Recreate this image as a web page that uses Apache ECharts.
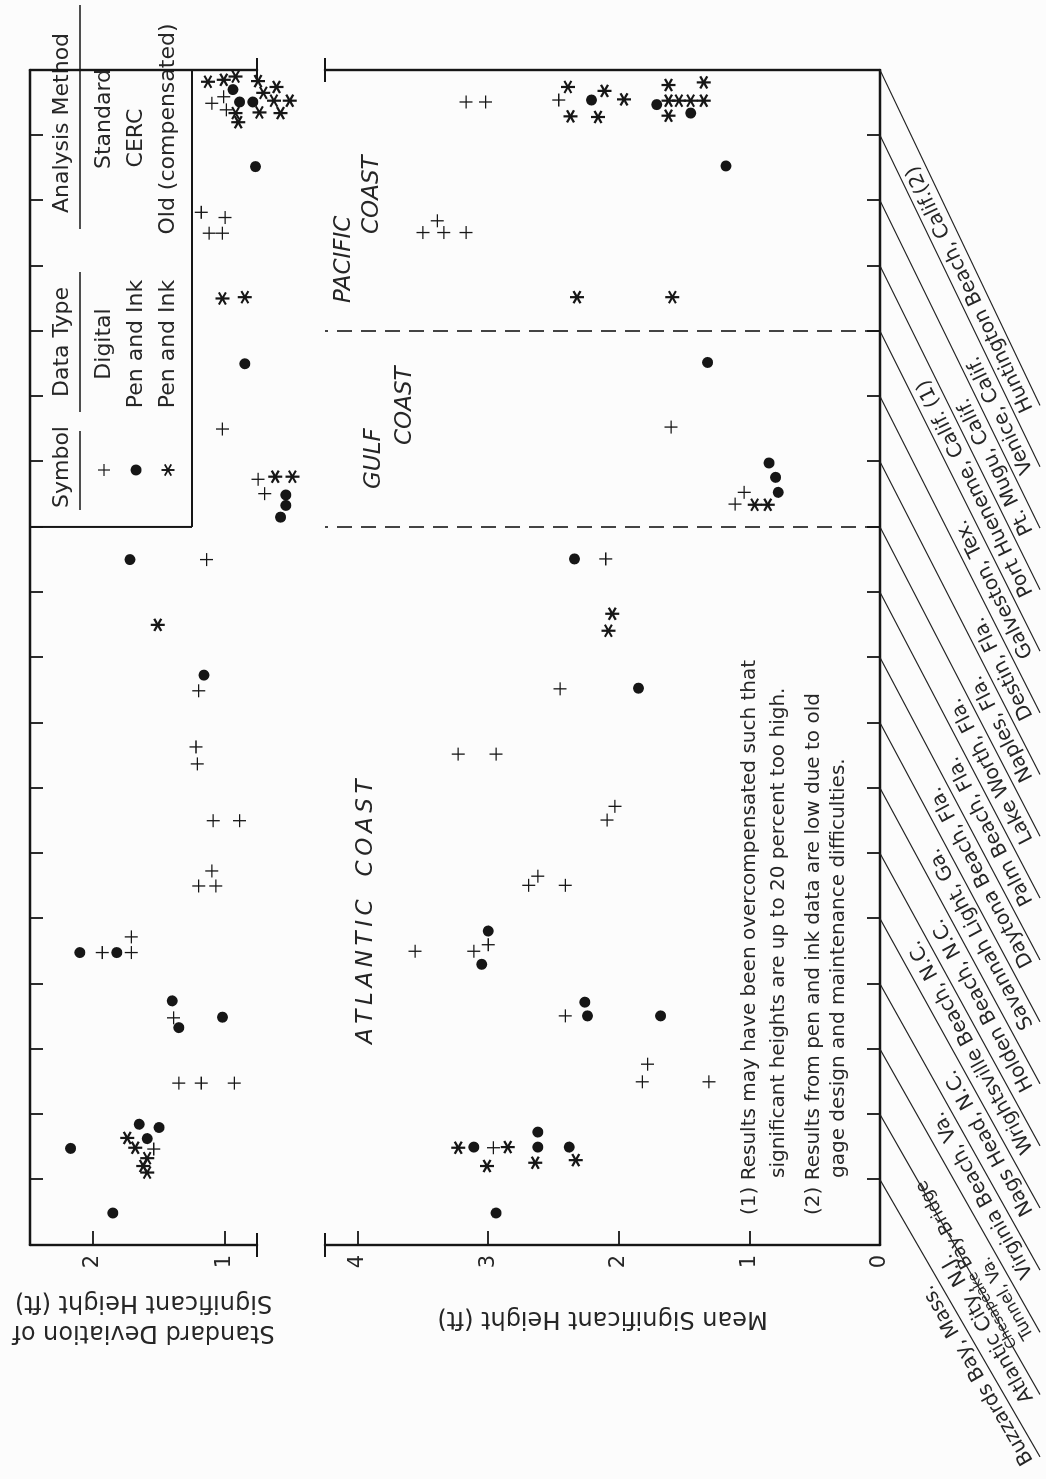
<!DOCTYPE html>
<html><head><meta charset="utf-8">
<script src="https://cdn.jsdelivr.net/npm/echarts@6.0.0/dist/echarts.min.js"></script>
<style>
html,body{margin:0;padding:0;background:#fcfcfc;width:1046px;height:1479px;overflow:hidden;}
#chart{position:absolute;left:0;top:0;width:1479px;height:1046px;transform-origin:0 0;transform:translate(0,1479px) rotate(-90deg);}
</style></head><body><div id="chart"></div>
<script>
// ---------------- data ----------------
const stations = [
  'Buzzards Bay, Mass.', 'Atlantic City, N.J.', '{s|Chesapeake} {b|Bay-Bridge}\n{t|Tunnel, Va.}', 'Virginia Beach, Va.',
  'Nags Head, N.C.', 'Wrightsville Beach, N.C.', 'Holden Beach, N.C.', 'Savannah Light, Ga.',
  'Daytona Beach, Fla.', 'Palm Beach, Fla.', 'Lake Worth, Fla.', 'Naples, Fla.', 'Destin, Fla.',
  'Galveston, Tex.', 'Port Hueneme, Calif. (1)', 'Pt. Mugu, Calif.', 'Venice, Calif.', 'Huntington Beach, Calif.(2)'
];
const coastBoundaries = [11, 14];
const meanTickValues = [0, 1, 2, 3, 4];
const stdTickValues = [1, 2];

// [station position, value]
const stdDigital = [[10.50,1.14],[8.49,1.20],[7.63,1.22],[7.37,1.21],[6.50,1.09],[6.50,0.89],[5.73,1.10],[5.50,1.20],[5.50,1.07],
  [4.72,1.71],[4.48,1.93],[4.48,1.71],[3.48,1.39],[2.48,1.35],[2.48,1.18],[2.48,0.93],[1.47,1.54],
  [17.59,1.01],[17.49,1.10],[17.39,0.99],[15.82,1.18],[15.74,1.00],[15.50,1.12],[15.50,1.02],[12.50,1.02],[11.73,0.75],[11.51,0.70]];
const stdStandard = [[10.50,1.72],[8.73,1.16],[4.48,2.10],[4.48,1.82],[3.74,1.40],[3.33,1.35],[3.49,1.02],[1.85,1.65],[1.80,1.50],
  [1.63,1.59],[1.48,2.17],[0.49,1.85],[17.70,0.94],[17.51,0.89],[17.51,0.79],[16.52,0.77],[13.50,0.85],[11.49,0.54],[11.33,0.54],[11.15,0.58]];
const stdOld = [[9.50,1.51],[1.64,1.74],[1.49,1.68],[1.33,1.59],[1.21,1.62],[1.11,1.59],
  [17.82,1.13],[17.85,1.01],[17.90,0.92],[17.83,0.75],[17.74,0.61],[17.65,0.71],[17.53,0.63],[17.53,0.51],[17.34,0.92],
  [17.35,0.74],[17.34,0.58],[17.20,0.90],[14.50,1.02],[14.52,0.85],[11.77,0.62],[11.77,0.49]];

const meanDigital = [[10.51,2.10],[8.52,2.45],[7.52,3.23],[7.52,2.94],[6.72,2.03],[6.51,2.09],[5.65,2.62],[5.51,2.69],[5.51,2.41],
  [4.50,3.56],[4.50,3.11],[4.60,3.00],[3.51,2.41],[2.77,1.78],[2.50,1.82],[2.50,1.31],[1.49,2.96],
  [17.51,3.17],[17.51,3.02],[17.54,2.46],[15.69,3.39],[15.51,3.50],[15.51,3.34],[15.51,3.17],[12.53,1.60],[11.53,1.04],[11.35,1.11]];
const meanStandard = [[10.51,2.34],[8.53,1.85],[4.81,3.00],[4.30,3.05],[3.72,2.26],[3.51,2.24],[3.51,1.68],[1.50,3.11],[1.73,2.62],
  [1.50,2.62],[1.50,2.38],[0.49,2.94],[17.54,2.21],[17.47,1.71],[17.34,1.45],[16.53,1.18],[13.52,1.32],[11.98,0.85],[11.76,0.80],[11.53,0.78]];
const meanOld = [[9.67,2.05],[9.41,2.08],[1.49,3.23],[1.50,2.85],[1.21,3.01],[1.26,2.64],[1.30,2.33],
  [17.74,2.39],[17.68,2.11],[17.29,2.37],[17.28,2.16],[17.55,1.96],[17.77,1.62],[17.53,1.62],[17.53,1.54],[17.53,1.45],
  [17.53,1.35],[17.81,1.35],[17.30,1.62],[14.52,2.32],[14.52,1.59],[11.34,0.96],[11.34,0.86]];

const legendRows = [['Digital','Standard'],['Pen and Ink','CERC'],['Pen and Ink','Old (compensated)']];
const notes = ['(1) Results may have been overcompensated such that', 'significant heights are up to 20 percent too high.',
  '(2) Results from pen and ink data are low due to old', 'gage design and maintenance difficulties.'];

// ---------------- style ----------------
const FONT = "'DejaVu Sans', 'Open Sans', sans-serif";
const INK = '#161616';
const TXT = '#262626';
const STD_MIN = 0.758, STD_MAX = 2.477, MEAN_MAX = 4.25;
const spaced = s => s.split('').join('\u2009');

const PLUS = 'path://M5.4,0H6.6V12H5.4Z M0,5.4H12V6.6H0Z';
function starPath() {
  const L = 6, W = 0.95; let d = '';
  [90, 30, 150].forEach(a => {
    const r = a * Math.PI / 180, ux = Math.cos(r), uy = -Math.sin(r), nx = -uy, ny = ux;
    const pts = [[L*ux+W*nx, L*uy+W*ny],[L*ux-W*nx, L*uy-W*ny],[-L*ux-W*nx, -L*uy-W*ny],[-L*ux+W*nx, -L*uy+W*ny]];
    d += 'M' + pts.map(p => (p[0]+6).toFixed(3) + ',' + (p[1]+6).toFixed(3)).join('L') + 'Z ';
  });
  return 'path://' + d;
}
const STAR = starPath();

function scatter(data, xi, yi, kind) {
  const s = {type:'scatter', xAxisIndex:xi, yAxisIndex:yi, data, clip:false, silent:true,
    itemStyle:{color:INK, opacity:1}};
  if (kind === 'plus') { s.symbol = PLUS; s.symbolSize = 13; }
  else if (kind === 'dot') { s.symbol = 'circle'; s.symbolSize = 11; }
  else { s.symbol = STAR; s.symbolSize = 14; s.symbolKeepAspect = true; }
  return s;
}

const axisLineStyle = {color:INK, width:2.4};
function xAx(gi, pos) {
  return {gridIndex:gi, type:'value', min:0, max:18, interval:1, position:pos,
    axisLine:{show:true, onZero:false, lineStyle:axisLineStyle},
    axisTick:{show:true, inside:true, length:13, lineStyle:{color:INK, width:1.8}},
    axisLabel:{show:false}, splitLine:{show:false}};
}
function yAx(gi, min, max, pos, ticks, name, gap) {
  const a = {gridIndex:gi, type:'value', min, max, position:pos,
    axisLine:{show:true, onZero:false, lineStyle:axisLineStyle}, splitLine:{show:false}};
  if (ticks) {
    a.axisTick = {show:true, inside:true, length:14, customValues:ticks, lineStyle:{color:INK, width:1.8}};
    a.axisLabel = {show:true, customValues:ticks, fontSize:21, fontFamily:FONT, color:TXT, margin:10};
    a.name = name; a.nameLocation = 'middle'; a.nameGap = gap; a.nameRotate = 90;
    a.nameTextStyle = {fontSize:24, fontFamily:FONT, color:TXT, lineHeight:30};
  } else {
    a.axisTick = {show:false}; a.axisLabel = {show:false};
  }
  return a;
}

const dashed = {color:INK, width:1.6, type:[15, 9]};
function boundaryLines(y1, y2) {
  return {silent:true, symbol:['none','none'], label:{show:false}, lineStyle:dashed,
    data: coastBoundaries.map(b => [{coord:[b, y1]}, {coord:[b, y2]}])};
}

const chart = echarts.init(document.getElementById('chart'), null, {renderer:'canvas', width:1479, height:1046});

const stdPlus = scatter(stdDigital, 0, 0, 'plus');
stdPlus.markLine = boundaryLines(1.25, 0.62);
const meanPlus = scatter(meanDigital, 1, 2, 'plus');
meanPlus.markLine = boundaryLines(0, MEAN_MAX);

const labelSeries = {
  type:'custom', xAxisIndex:1, yAxisIndex:2, silent:true, clip:false, z:5,
  data: stations.map((s, i) => [i + 1, 0, i]),
  renderItem(params, api) {
    const i = api.value(2);
    const p = api.coord([api.value(0), api.value(1)]);
    const ang = (30 - 4.5 * i / 17) * Math.PI / 180;
    const dy = 160, dx = dy / Math.tan(ang);
    const ex = p[0] - dx, ey = p[1] + dy;
    const off = 3;
    return {type:'group', children:[
      {type:'line', shape:{x1:p[0], y1:p[1], x2:ex, y2:ey}, style:{stroke:'#222', lineWidth:1.3}},
      {type:'text', x: ex - off*Math.sin(ang), y: ey - off*Math.cos(ang), rotation: ang,
       style:{text: stations[i], font:`20px ${FONT}`, fill:TXT, align:'left', verticalAlign:'bottom', lineHeight:20,
              rich:{s:{font:`14px ${FONT}`, fill:TXT, lineHeight:16},
                    b:{font:`18px ${FONT}`, fill:TXT, lineHeight:16},
                    t:{font:`17px ${FONT}`, fill:TXT, lineHeight:17}}}}
    ]};
  }
};

chart.setOption({
  backgroundColor:'#fcfcfc',
  animation:false,
  textStyle:{fontFamily:FONT, color:TXT},
  grid:[{left:234, top:30, width:1175, height:227}, {left:234, top:325, width:1175, height:555}],
  xAxis:[xAx(0, 'top'), xAx(1, 'bottom')],
  yAxis:[
    yAx(0, STD_MIN, STD_MAX, 'left', stdTickValues, 'Standard Deviation of\nSignificant Height (ft)', 42),
    yAx(0, STD_MIN, STD_MAX, 'right', null),
    yAx(1, 0, MEAN_MAX, 'left', meanTickValues, 'Mean Significant Height (ft)', 58),
    yAx(1, 0, MEAN_MAX, 'right', null)
  ],
  series:[
    stdPlus, scatter(stdStandard, 0, 0, 'dot'), scatter(stdOld, 0, 0, 'star'),
    meanPlus, scatter(meanStandard, 1, 2, 'dot'), scatter(meanOld, 1, 2, 'star'),
    labelSeries
  ]
});

// ---------------- decorations ----------------
const px = (xi, yi, x, y) => chart.convertToPixel({xAxisIndex:xi, yAxisIndex:yi}, [x, y]);
const g = [];
function line(x1, y1, x2, y2, w) { g.push({type:'line', silent:true, shape:{x1,y1,x2,y2}, style:{stroke:INK, lineWidth:w||2}}); }
function text(x, y, s, font, align, extra) {
  g.push({type:'text', silent:true, x, y, style:Object.assign({text:s, font, fill:TXT, align:align||'left', verticalAlign:'middle'}, extra||{})});
}
// axis end caps
[[0,2],[18,3]].forEach(([xv, yi]) => { const p = px(1, yi, xv, MEAN_MAX); line(p[0]-12, p[1], p[0]+12, p[1], 2); });
[[0,0],[18,1]].forEach(([xv, yi]) => { const p = px(0, yi, xv, STD_MIN); line(p[0]-12, p[1], p[0]+12, p[1], 2); });

// legend box
const bx = px(0, 0, coastBoundaries[0], STD_MAX)[0];
const rx = px(0, 0, 18, STD_MAX)[0];
line(bx, 30, bx, 192, 2);
line(bx, 192, rx, 192, 2);
const LF = `22px ${FONT}`;
text(1012, 62, 'Symbol', LF, 'center');
text(1137, 62, 'Data Type', LF, 'center');
text(1356, 62, 'Analysis Method', LF, 'center');
line(969, 80, 1048, 80, 1.3); line(1067, 80, 1207, 80, 1.3); line(1250, 80, 1474, 80, 1.3);
const rowY = [104, 136, 168];
const col3 = [1360, 1341, 1350];
legendRows.forEach((r, k) => {
  text(1135, rowY[k], r[0], LF, 'center');
  text(col3[k], rowY[k], r[1], LF, 'center');
});
// legend symbols
const sx = 1009;
line(sx-6, rowY[0], sx+6, rowY[0], 1.2); line(sx, rowY[0]-6, sx, rowY[0]+6, 1.2);
g.push({type:'circle', silent:true, shape:{cx:sx, cy:rowY[1], r:5.5}, style:{fill:INK}});
[90, 30, 150].forEach(a => { const r = a*Math.PI/180, c = Math.cos(r)*6.5, s = Math.sin(r)*6.5;
  line(sx-c, rowY[2]+s, sx+c, rowY[2]-s, 1.9); });

// coast labels
const IF = `italic 23px ${FONT}`;
text(435, 366, spaced('ATLANTIC') + '\u2003' + spaced('COAST'), IF);
text(990, 374, 'GULF', IF);
text(1034, 405, 'COAST', IF);
text(1176, 344, 'PACIFIC', IF);
text(1245, 372, 'COAST', IF);

// notes
const NF = `20px ${FONT}`;
text(264, 750, notes[0], NF);
text(301, 779, notes[1], NF);
text(264, 814, notes[2], NF);
text(301, 839, notes[3], NF);

chart.setOption({graphic: g});
</script></body></html>
